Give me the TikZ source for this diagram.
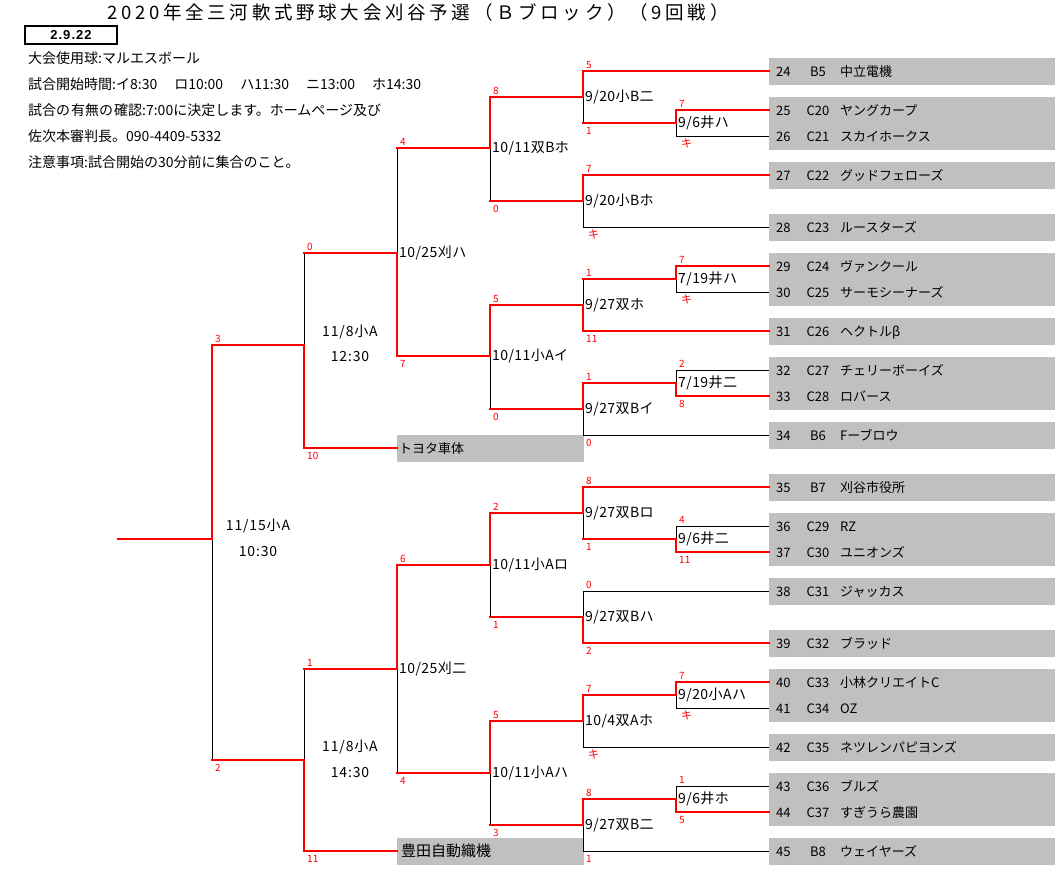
\documentclass[tikz,border=0pt]{standalone}
\usepackage{fontspec}
\setmainfont{Noto Sans CJK JP}
\newfontfamily\libsans{Liberation Sans}
\definecolor{boxgray}{RGB}{192,192,192}
\newcommand\teamrow[4]{%
  \coordinate (e#1) at (769,#2);
  \node[tx,anchor=west] (n#1) at (776,#2) {#1};
  \node[tx] (c#1) at (818,#2) {#3};
  \node[tx,anchor=west] (t#1) at (840,#2) {#4};}
\newcommand\matchpt[4]{%
  \coordinate (#1) at (#2,#3);
  \node[mlab] (L#1) at (#2+2,#3) {#4};}
\newcommand\WinArm[2]{\draw[win] (#1) |- (#2);}
\newcommand\LoseTeam[2]{\draw[lose] (#1) |- (#2);}
\newcommand\LoseVert[2]{\draw[lose] (#1) -- (#1 |- #2);}
\newcommand\LoseHor[2]{\draw[win] (#1 |- #2) -- (#2);}
\newcommand\sctop[4]{\node[sc] (#1) at (#2+3,#3-6) {#4};}
\newcommand\scbot[4]{\node[sc] (#1) at (#2+3,#3+8) {#4};}
\newcommand\kibot[3]{\node[ki] (#1) at (#2+5,#3+7) {キ};}
\begin{document}
\begin{tikzpicture}[x=1pt,y=-1pt,
  win/.style={draw=red,line width=2pt,line cap=rect},
  lose/.style={draw=black,line width=1pt},
  tx/.style={inner sep=0pt,yshift=-1.5pt,font=\fontsize{13}{15}\selectfont,text height=0.86em,text depth=0.12em},
  mlab/.style={inner sep=0pt,yshift=-1pt,anchor=west,font={\fontsize{14}{16}\selectfont\addfontfeature{LetterSpace=3}},text height=0.86em,text depth=0.12em},
  hd/.style={inner sep=0pt,yshift=-1pt,anchor=west,font=\fontsize{14}{16}\selectfont,text height=0.86em,text depth=0.12em},
  big/.style={inner sep=0pt,font={\fontsize{14}{16}\selectfont\addfontfeature{LetterSpace=6}},text height=0.86em,text depth=0.12em},
  sc/.style={inner sep=0pt,anchor=west,text=red,font=\fontsize{10}{11}\selectfont},
  ki/.style={inner sep=0pt,anchor=west,text=red,font=\fontsize{11}{12}\selectfont},
]
\useasboundingbox (0,0) rectangle (1055,891);
\fill[white] (0,0) rectangle (1055,891);
% title and header
\node[inner sep=0pt,font={\fontsize{18.5}{20}\selectfont\addfontfeature{LetterSpace=20}},text height=0.86em,text depth=0.12em] (title) at (418,15.5) {2020年全三河軟式野球大会刈谷予選（Ｂブロック）（9回戦）};
\node[draw,line width=2pt,minimum width=92pt,minimum height=18pt,inner sep=0pt,font={\libsans\bfseries\fontsize{13}{15}\selectfont\addfontfeature{LetterSpace=8}}] (date) at (71,35.5) {2.9.22};
\node[hd] (h1) at (28,59) {大会使用球:マルエスボール};
\node[hd] (h2) at (28,85) {試合開始時間:イ8:30\hspace{17pt}ロ10:00\hspace{17pt}ハ11:30\hspace{17pt}ニ13:00\hspace{17pt}ホ14:30};
\node[hd] (h3) at (28,111) {試合の\hspace{1pt}有無の\hspace{1pt}確認:7:00に決定します。ホームページ及び};
\node[hd] (h4) at (28,137) {佐次本審判長。090-4409-5332};
\node[hd] (h5) at (28,163) {注意事項:試合開始の30分前に集合のこと。};
% grey team boxes
\fill[boxgray] (769,58) rectangle (1055,85);
\fill[boxgray] (769,97) rectangle (1055,150);
\fill[boxgray] (769,162) rectangle (1055,189);
\fill[boxgray] (769,214) rectangle (1055,241);
\fill[boxgray] (769,253) rectangle (1055,306);
\fill[boxgray] (769,318) rectangle (1055,345);
\fill[boxgray] (769,357) rectangle (1055,410);
\fill[boxgray] (769,422) rectangle (1055,449);
\fill[boxgray] (769,474) rectangle (1055,501);
\fill[boxgray] (769,513) rectangle (1055,566);
\fill[boxgray] (769,578) rectangle (1055,605);
\fill[boxgray] (769,630) rectangle (1055,657);
\fill[boxgray] (769,669) rectangle (1055,722);
\fill[boxgray] (769,734) rectangle (1055,761);
\fill[boxgray] (769,773) rectangle (1055,826);
\fill[boxgray] (769,838) rectangle (1055,865);
\fill[boxgray] (397,435) rectangle (584,462);
\fill[boxgray] (397,838) rectangle (584,865);
% teams
\teamrow{24}{71}{B5}{中立電機}
\teamrow{25}{110}{C20}{ヤングカープ}
\teamrow{26}{136}{C21}{スカイホークス}
\teamrow{27}{175}{C22}{グッドフェローズ}
\teamrow{28}{227}{C23}{ルースターズ}
\teamrow{29}{266}{C24}{ヴァンクール}
\teamrow{30}{292}{C25}{サーモシーナーズ}
\teamrow{31}{331}{C26}{ヘクトルβ}
\teamrow{32}{370}{C27}{チェリーボーイズ}
\teamrow{33}{396}{C28}{ロバース}
\teamrow{34}{435}{B6}{Fーブロウ}
\teamrow{35}{487}{B7}{刈谷市役所}
\teamrow{36}{526}{C29}{RZ}
\teamrow{37}{552}{C30}{ユニオンズ}
\teamrow{38}{591}{C31}{ジャッカス}
\teamrow{39}{643}{C32}{ブラッド}
\teamrow{40}{682}{C33}{小林クリエイトC}
\teamrow{41}{708}{C34}{OZ}
\teamrow{42}{747}{C35}{ネツレンパピヨンズ}
\teamrow{43}{786}{C36}{ブルズ}
\teamrow{44}{812}{C37}{すぎうら農園}
\teamrow{45}{851}{B8}{ウェイヤーズ}
\coordinate (toy) at (397,448);
\node[tx,anchor=west] (toyn) at (399,448) {トヨタ車体};
\coordinate (tyd) at (397,851);
\node[inner sep=0pt,yshift=-1.5pt,anchor=west,font=\fontsize{15}{17}\selectfont,text height=0.86em,text depth=0.12em] (tydn) at (401,851) {豊田自動織機};
% matches
\matchpt{R1a}{676}{123}{9/6井ハ}
\matchpt{R1b}{676}{279}{7/19井ハ}
\matchpt{R1c}{676}{383}{7/19井二}
\matchpt{R1d}{676}{539}{9/6井二}
\matchpt{R1e}{676}{695}{9/20小Aハ}
\matchpt{R1f}{676}{799}{9/6井ホ}
\matchpt{R2a}{583}{97}{9/20小B二}
\matchpt{R2b}{583}{201}{9/20小Bホ}
\matchpt{R2c}{583}{305}{9/27双ホ}
\matchpt{R2d}{583}{409}{9/27双Bイ}
\matchpt{R2e}{583}{513}{9/27双Bロ}
\matchpt{R2f}{583}{617}{9/27双Bハ}
\matchpt{R2g}{583}{721}{10/4双Aホ}
\matchpt{R2h}{583}{825}{9/27双B二}
\matchpt{R3a}{490}{148}{10/11双Bホ}
\matchpt{R3b}{490}{356}{10/11小Aイ}
\matchpt{R3c}{490}{565}{10/11小Aロ}
\matchpt{R3d}{490}{773}{10/11小Aハ}
\matchpt{R4a}{397}{253}{10/25刈ハ}
\matchpt{R4b}{397}{669}{10/25刈二}
\coordinate (R5a) at (304,345);
\coordinate (R5b) at (304,760);
\coordinate (F) at (212,539);
\coordinate (out) at (118,539);
\node[big] (d5a) at (350,333) {11/8小A};
\node[big] (k5a) at (350,358) {12:30};
\node[big] (d5b) at (350,748) {11/8小A};
\node[big] (k5b) at (350,774) {14:30};
\node[big] (dF) at (258,527) {11/15小A};
\node[big] (kF) at (258,553) {10:30};
% black segments
\LoseTeam{R1a}{e26} \LoseTeam{R1b}{e30} \LoseTeam{R1c}{e32}
\LoseTeam{R1d}{e36} \LoseTeam{R1e}{e41} \LoseTeam{R1f}{e43}
\LoseTeam{R2b}{e28} \LoseTeam{R2d}{e34} \LoseTeam{R2f}{e38}
\LoseTeam{R2g}{e42} \LoseTeam{R2h}{e45}
\LoseVert{R2a}{R1a} \LoseVert{R2c}{R1b} \LoseVert{R2e}{R1d}
\LoseVert{R3a}{R2b} \LoseVert{R3b}{R2d} \LoseVert{R3c}{R2f} \LoseVert{R3d}{R2h}
\LoseVert{R4a}{R3a} \LoseVert{R4b}{R3d}
\LoseVert{R5a}{R4a} \LoseVert{R5b}{R4b}
\LoseVert{F}{R5b}
% red segments
\WinArm{R1a}{e25} \WinArm{R1b}{e29} \WinArm{R1c}{e33}
\WinArm{R1d}{e37} \WinArm{R1e}{e40} \WinArm{R1f}{e44}
\WinArm{R2a}{e24} \WinArm{R2b}{e27} \WinArm{R2c}{e31} \WinArm{R2d}{R1c}
\WinArm{R2e}{e35} \WinArm{R2f}{e39} \WinArm{R2g}{R1e} \WinArm{R2h}{R1f}
\WinArm{R3a}{R2a} \WinArm{R3b}{R2c} \WinArm{R3c}{R2e} \WinArm{R3d}{R2g}
\WinArm{R4a}{R3b} \WinArm{R4b}{R3c}
\WinArm{R5a}{toy} \WinArm{R5b}{tyd}
\WinArm{F}{R5a}
\LoseHor{R2a}{R1a} \LoseHor{R2c}{R1b} \LoseHor{R2e}{R1d}
\LoseHor{R3a}{R2b} \LoseHor{R3b}{R2d} \LoseHor{R3c}{R2f} \LoseHor{R3d}{R2h}
\LoseHor{R4a}{R3a} \LoseHor{R4b}{R3d}
\LoseHor{R5a}{R4a} \LoseHor{R5b}{R4b}
\LoseHor{F}{R5b}
\draw[win] (F) -- (out);
% scores
\sctop{s1}{676}{110}{7} \kibot{s2}{676}{136}
\sctop{s3}{676}{266}{7} \kibot{s4}{676}{292}
\sctop{s5}{676}{370}{2} \scbot{s6}{676}{396}{8}
\sctop{s7}{676}{526}{4} \scbot{s8}{676}{552}{11}
\sctop{s9}{676}{682}{7} \kibot{s10}{676}{708}
\sctop{s11}{676}{786}{1} \scbot{s12}{676}{812}{5}
\sctop{s13}{583}{71}{5} \scbot{s14}{583}{123}{1}
\sctop{s15}{583}{175}{7} \kibot{s16}{583}{227}
\sctop{s17}{583}{279}{1} \scbot{s18}{583}{331}{11}
\sctop{s19}{583}{383}{1} \scbot{s20}{583}{435}{0}
\sctop{s21}{583}{487}{8} \scbot{s22}{583}{539}{1}
\sctop{s23}{583}{591}{0} \scbot{s24}{583}{643}{2}
\sctop{s25}{583}{695}{7} \kibot{s26}{583}{747}
\sctop{s27}{583}{799}{8} \scbot{s28}{583}{851}{1}
\sctop{s29}{490}{97}{8} \scbot{s30}{490}{201}{0}
\sctop{s31}{490}{305}{5} \scbot{s32}{490}{409}{0}
\sctop{s33}{490}{513}{2} \scbot{s34}{490}{617}{1}
\sctop{s35}{490}{721}{5} \scbot{s36}{490}{825}{3}
\sctop{s37}{397}{148}{4} \scbot{s38}{397}{356}{7}
\sctop{s39}{397}{565}{6} \scbot{s40}{397}{773}{4}
\sctop{s41}{304}{253}{0} \scbot{s42}{304}{448}{10}
\sctop{s43}{304}{669}{1} \scbot{s44}{304}{851}{11}
\sctop{s45}{212}{345}{3} \scbot{s46}{212}{760}{2}
\end{tikzpicture}
\end{document}
